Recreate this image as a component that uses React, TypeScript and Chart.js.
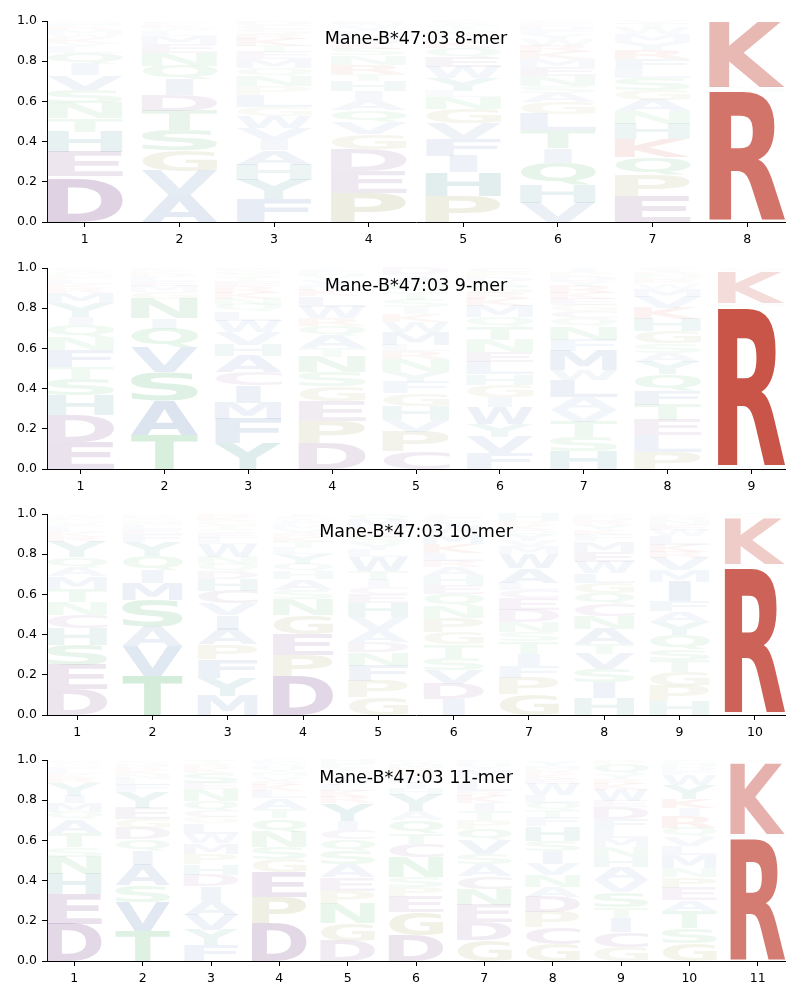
import React, { useEffect, useRef } from "react";
import { Chart, registerables } from "chart.js";

Chart.register(...registerables);

type Col = [string, number][];

const TITLES = [
  "Mane-B*47:03 8-mer",
  "Mane-B*47:03 9-mer",
  "Mane-B*47:03 10-mer",
  "Mane-B*47:03 11-mer",
];

const Y_TICKS = [0, 0.2, 0.4, 0.6, 0.8, 1.0];

// Letter stacks per position, listed bottom to top: [letter, probability]
const mer8: Col[] = [
  [["D",.215],["C",.014],["E",.121],["H",.10],["T",.065],["N",.075],["S",.068],["V",.072],["I",.055],["Q",.055],["L",.03],["Y",.02],["K",.025],["W",.02],["M",.02],["R",.015],["F",.015],["G",.01],["A",.005]],
  [["A",.134],["V",.12],["G",.102],["S",.10],["T",.097],["D",.08],["I",.075],["Q",.068],["N",.065],["E",.045],["M",.04],["L",.025],["W",.015],["K",.015],["F",.01],["R",.009]],
  [["F",.113],["Y",.096],["H",.075],["A",.074],["I",.052],["V",.06],["W",.058],["G",.045],["L",.058],["P",.045],["N",.05],["Q",.04],["M",.045],["E",.035],["T",.03],["K",.035],["R",.025],["S",.025],["C",.02],["D",.019]],
  [["P",.146],["E",.11],["D",.107],["G",.075],["V",.06],["Q",.058],["A",.052],["I",.045],["H",.05],["T",.035],["R",.045],["N",.045],["S",.035],["K",.03],["M",.03],["L",.025],["Y",.02],["W",.017],["F",.015]],
  [["P",.129],["H",.118],["I",.083],["F",.085],["V",.075],["G",.073],["N",.058],["L",.033],["Y",.063],["W",.055],["E",.048],["Q",.045],["K",.03],["M",.025],["R",.02],["S",.02],["T",.015],["A",.015],["C",.01]],
  [["V",.096],["H",.088],["Q",.11],["I",.072],["T",.09],["L",.082],["G",.06],["A",.045],["S",.035],["N",.05],["E",.045],["M",.04],["K",.035],["R",.03],["W",.03],["Y",.025],["F",.02],["D",.02],["P",.015],["C",.012]],
  [["E",.129],["P",.105],["Q",.09],["K",.088],["H",.075],["N",.063],["A",.058],["G",.05],["S",.06],["L",.045],["F",.05],["R",.045],["Y",.04],["M",.035],["W",.03],["T",.025],["V",.012]],
  [["N",.015],["R",.633],["H",.012],["M",.013],["K",.324],["Q",.003]],
];

const mer9: Col[] = [
  [["E",.136],["D",.133],["H",.096],["S",.083],["T",.06],["F",.083],["N",.063],["Q",.062],["I",.04],["Y",.071],["M",.05],["R",.025],["K",.02],["L",.02],["P",.015],["G",.015],["A",.015],["C",.013]],
  [["T",.169],["A",.172],["S",.14],["V",.123],["Q",.095],["I",.05],["N",.097],["G",.035],["M",.03],["E",.025],["L",.02],["D",.015],["K",.012],["R",.01],["F",.007]],
  [["Y",.128],["F",.12],["M",.082],["I",.085],["C",.065],["A",.082],["H",.057],["V",.064],["W",.055],["L",.045],["Q",.035],["N",.03],["K",.03],["R",.03],["E",.025],["T",.02],["S",.017],["G",.015],["P",.015]],
  [["D",.128],["P",.113],["E",.095],["G",.074],["S",.072],["N",.077],["T",.042],["A",.063],["Q",.048],["R",.04],["W",.055],["L",.053],["K",.03],["M",.025],["V",.025],["Y",.02],["H",.015],["F",.015],["I",.01]],
  [["C",.09],["P",.096],["V",.058],["H",.07],["G",.063],["F",.055],["Y",.053],["N",.063],["R",.04],["L",.03],["M",.065],["W",.05],["K",.04],["I",.03],["S",.04],["T",.04],["Q",.035],["A",.04],["E",.012],["D",.03]],
  [["F",.078],["V",.083],["Y",.062],["W",.086],["I",.05],["G",.058],["H",.054],["L",.062],["E",.05],["N",.061],["T",.067],["Q",.045],["M",.055],["K",.035],["R",.03],["S",.03],["A",.025],["D",.025],["P",.025],["C",.019]],
  [["H",.09],["S",.071],["T",.075],["V",.058],["A",.063],["L",.085],["W",.05],["M",.096],["F",.055],["N",.067],["Q",.04],["C",.035],["G",.03],["E",.03],["K",.03],["R",.035],["Y",.025],["D",.025],["P",.02],["I",.02]],
  [["P",.086],["L",.083],["E",.075],["T",.075],["F",.073],["Q",.08],["Y",.062],["A",.045],["S",.045],["G",.062],["H",.062],["K",.055],["V",.055],["M",.04],["W",.025],["R",.02],["N",.02],["D",.015],["I",.012],["C",.01]],
  [["H",.02],["R",.78],["L",.013],["M",.013],["K",.157],["Q",.017]],
];

const mer10: Col[] = [
  [["D",.128],["E",.121],["S",.1],["H",.083],["C",.067],["N",.063],["T",.067],["M",.06],["A",.045],["Q",.05],["Y",.075],["R",.025],["K",.025],["L",.02],["F",.015],["V",.015],["G",.012],["P",.01],["W",.01],["I",.009]],
  [["T",.194],["V",.15],["A",.095],["S",.132],["M",.085],["I",.065],["Q",.071],["Y",.07],["F",.04],["E",.025],["L",.02],["N",.015],["G",.013],["K",.01],["R",.008],["D",.007]],
  [["M",.095],["Y",.091],["F",.091],["P",.073],["A",.075],["I",.071],["V",.058],["C",.064],["H",.06],["D",.04],["Q",.035],["N",.035],["W",.062],["L",.03],["E",.025],["S",.02],["T",.02],["G",.02],["K",.02],["R",.015]],
  [["D",.194],["P",.106],["E",.104],["G",.095],["N",.078],["S",.045],["A",.053],["H",.04],["Q",.035],["Y",.05],["L",.03],["T",.03],["K",.025],["R",.02],["V",.02],["M",.02],["F",.015],["W",.015],["C",.01],["I",.015]],
  [["G",.086],["P",.083],["F",.075],["N",.067],["D",.053],["A",.061],["V",.063],["H",.07],["E",.045],["C",.035],["I",.035],["T",.045],["W",.07],["L",.035],["Y",.03],["S",.03],["K",.025],["R",.02],["M",.042],["Q",.03]],
  [["I",.078],["D",.075],["V",.072],["S",.061],["T",.066],["G",.062],["P",.07],["N",.058],["Q",.061],["E",.045],["H",.045],["A",.045],["R",.03],["L",.04],["K",.045],["M",.05],["W",.037],["Y",.025],["F",.02],["C",.015]],
  [["G",.103],["P",.083],["F",.06],["I",.059],["T",.061],["S",.045],["N",.05],["D",.061],["E",.058],["C",.042],["L",.036],["A",.071],["W",.07],["M",.035],["V",.03],["Y",.03],["Q",.025],["K",.025],["R",.02],["H",.036]],
  [["H",.083],["I",.078],["S",.067],["V",.074],["T",.05],["A",.075],["N",.066],["C",.058],["Q",.055],["G",.053],["L",.047],["W",.055],["E",.05],["M",.054],["F",.03],["K",.025],["Y",.025],["R",.02],["D",.02],["P",.015]],
  [["H",.07],["P",.075],["G",.07],["T",.056],["S",.056],["Q",.072],["Y",.064],["A",.055],["F",.048],["I",.096],["M",.057],["V",.062],["R",.03],["K",.035],["L",.045],["W",.03],["E",.025],["N",.025],["D",.015],["C",.014]],
  [["H",.017],["R",.714],["M",.01],["L",.01],["K",.229],["Q",.02]],
];

const mer11: Col[] = [
  [["D",.186],["E",.146],["H",.1],["N",.087],["S",.046],["T",.072],["A",.066],["Q",.039],["M",.044],["I",.037],["Y",.063],["R",.025],["K",.02],["L",.02],["F",.015],["G",.012],["W",.01],["P",.008],["V",.004]],
  [["T",.15],["V",.144],["S",.083],["A",.103],["I",.07],["Q",.055],["D",.056],["G",.047],["E",.055],["Y",.078],["F",.035],["L",.03],["N",.025],["K",.02],["R",.015],["M",.015],["W",.01],["P",.009]],
  [["F",.078],["Y",.075],["V",.077],["A",.07],["I",.071],["D",.058],["H",.054],["P",.05],["M",.053],["W",.046],["L",.054],["G",.03],["C",.03],["Q",.05],["N",.06],["E",.03],["S",.05],["K",.025],["R",.02],["T",.019]],
  [["D",.186],["P",.13],["E",.125],["G",.066],["S",.061],["N",.075],["Q",.067],["T",.046],["A",.055],["L",.037],["K",.03],["R",.02],["V",.02],["M",.02],["Y",.015],["H",.015],["W",.012],["F",.01],["C",.01]],
  [["D",.1],["G",.089],["N",.094],["P",.066],["E",.067],["A",.066],["S",.067],["Q",.058],["C",.046],["I",.045],["Y",.086],["R",.03],["K",.03],["L",.03],["W",.025],["V",.025],["M",.02],["T",.02],["F",.019],["H",.017]],
  [["D",.128],["G",.116],["E",.075],["P",.05],["S",.05],["N",.096],["C",.067],["T",.055],["Q",.066],["A",.042],["Y",.083],["H",.03],["I",.03],["L",.025],["K",.025],["R",.02],["M",.02],["V",.015],["F",.007]],
  [["G",.103],["D",.091],["E",.087],["N",.076],["C",.063],["A",.061],["S",.05],["V",.07],["Q",.055],["P",.045],["T",.045],["I",.04],["K",.035],["R",.025],["L",.045],["W",.02],["M",.04],["Y",.02],["H",.015],["F",.014]],
  [["G",.086],["C",.08],["P",.078],["D",.075],["A",.05],["N",.058],["V",.056],["I",.066],["S",.05],["H",.071],["F",.042],["T",.04],["Q",.035],["L",.04],["W",.055],["E",.025],["K",.025],["R",.02],["M",.02],["Y",.028]],
  [["G",.07],["C",.075],["I",.069],["T",.054],["S",.073],["V",.06],["A",.065],["H",.05],["N",.05],["M",.046],["L",.046],["F",.05],["D",.058],["E",.03],["W",.055],["K",.03],["R",.025],["Y",.025],["Q",.049],["P",.02]],
  [["G",.09],["S",.075],["T",.083],["A",.055],["E",.061],["P",.053],["N",.046],["M",.063],["L",.046],["V",.046],["Q",.046],["R",.055],["I",.04],["K",.045],["Y",.07],["W",.05],["F",.02],["D",.02],["H",.02],["C",.016]],
  [["H",.012],["R",.598],["M",.01],["L",.011],["K",.352],["Q",.017]],
];

const PANEL_DATA: Col[][] = [mer8, mer9, mer10, mer11];

// ---- styling ----
const FONT = "'DejaVu Sans', 'Liberation Sans', sans-serif";
const GROUP_RGB: Record<string, [number, number, number]> = {
  acidic: [123, 74, 139],
  basic: [192, 57, 43],
  hydrophobic: [74, 116, 176],
  polar: [58, 170, 85],
  special: [150, 148, 70],
  aromatic: [40, 130, 130],
};
const LETTER_GROUP: Record<string, string> = {
  D: "acidic", E: "acidic", C: "acidic",
  K: "basic", R: "basic",
  A: "hydrophobic", V: "hydrophobic", L: "hydrophobic", I: "hydrophobic",
  M: "hydrophobic", F: "hydrophobic", W: "hydrophobic",
  S: "polar", T: "polar", N: "polar", Q: "polar",
  G: "special", P: "special",
  H: "aromatic", Y: "aromatic",
};
function letterColor(ch: string, h: number): string {
  const rgb = GROUP_RGB[LETTER_GROUP[ch] || "hydrophobic"];
  const a = Math.min(0.9, 0.005 + 1.1 * h);
  return `rgba(${rgb[0]},${rgb[1]},${rgb[2]},${a.toFixed(3)})`;
}

const HALF_W = 0.4;

function drawGlyph(
  ctx: CanvasRenderingContext2D,
  ch: string,
  x0: number,
  x1: number,
  yTop: number,
  yBot: number,
  color: string
) {
  const boxW = x1 - x0;
  const boxH = yBot - yTop;
  if (boxH <= 0.05) return;
  ctx.font = `bold 100px ${FONT}`;
  const m = ctx.measureText(ch);
  const mE = ctx.measureText("E");
  const gw = m.actualBoundingBoxLeft + m.actualBoundingBoxRight;
  const gh = m.actualBoundingBoxAscent + m.actualBoundingBoxDescent;
  const ew = mE.actualBoundingBoxLeft + mE.actualBoundingBoxRight;
  const sx = boxW / Math.max(gw, ew);
  const sy = boxH / gh;
  const drawnW = gw * sx;
  const left = x0 + (boxW - drawnW) / 2;
  ctx.save();
  ctx.translate(left, yTop);
  ctx.scale(sx, sy);
  ctx.fillStyle = color;
  ctx.textAlign = "left";
  ctx.textBaseline = "alphabetic";
  ctx.fillText(ch, m.actualBoundingBoxLeft, m.actualBoundingBoxAscent);
  ctx.restore();
}

const logoPlugin = {
  id: "logoLetters",
  afterDatasetsDraw(chart: any, _args: any, opts: any) {
    const cols: Col[] = opts.columns || [];
    const { ctx } = chart;
    const xs = chart.scales.x;
    const ys = chart.scales.y;
    ctx.save();
    cols.forEach((col, i) => {
      const pos = i + 1;
      const xl = xs.getPixelForValue(pos - HALF_W);
      const xr = xs.getPixelForValue(pos + HALF_W);
      let cum = 0;
      col.forEach(([ch, h]) => {
        const yb = ys.getPixelForValue(cum);
        const yt = ys.getPixelForValue(cum + h);
        cum += h;
        drawGlyph(ctx, ch, xl, xr, yt, yb, letterColor(ch, h));
      });
    });
    ctx.restore();
  },
};

const innerTitlePlugin = {
  id: "innerTitle",
  afterDraw(chart: any, _args: any, opts: any) {
    const { ctx, chartArea } = chart;
    ctx.save();
    ctx.font = `17.5px ${FONT}`;
    ctx.fillStyle = "#000";
    ctx.textAlign = "center";
    ctx.textBaseline = "alphabetic";
    ctx.fillText(opts.text || "", (chartArea.left + chartArea.right) / 2, chartArea.top + 23);
    ctx.restore();
  },
};

const PANEL_TOPS = [21, 268, 514, 760];
const AREA_H = 201;
const CANVAS_H = 246;

function LogoPanel({ index }: { index: number }) {
  const ref = useRef<HTMLCanvasElement | null>(null);
  useEffect(() => {
    if (!ref.current) return;
    const cols = PANEL_DATA[index];
    const n = cols.length;
    const positions = cols.map((_, i) => i + 1);
    const tickFont = { family: FONT, size: 12.5 };
    const chart = new Chart(ref.current, {
      type: "scatter",
      data: { datasets: [{ data: [] as any[] }] },
      plugins: [logoPlugin as any, innerTitlePlugin as any],
      options: {
        animation: false,
        responsive: false,
        devicePixelRatio: 1,
        layout: { padding: { top: 21, right: 15, left: 0, bottom: 0 } },
        plugins: {
          legend: { display: false },
          tooltip: { enabled: false },
          logoLetters: { columns: cols },
          innerTitle: { text: TITLES[index] },
        } as any,
        scales: {
          x: {
            type: "linear",
            min: 1 - HALF_W,
            max: n + HALF_W,
            afterBuildTicks: (s: any) => {
              s.ticks = positions.map((v) => ({ value: v }));
            },
            afterFit: (s: any) => {
              s.height = CANVAS_H - 21 - AREA_H;
            },
            ticks: {
              callback: (v: any) => String(v),
              font: tickFont,
              color: "#000",
              padding: 5,
              maxRotation: 0,
              autoSkip: false,
            },
            grid: {
              display: true,
              drawOnChartArea: false,
              drawTicks: true,
              tickLength: 5,
              color: "#000",
            },
            border: { display: true, color: "#000", width: 1 },
          },
          y: {
            type: "linear",
            min: 0,
            max: 1,
            afterBuildTicks: (s: any) => {
              s.ticks = Y_TICKS.map((v) => ({ value: v }));
            },
            afterFit: (s: any) => {
              s.width = 47;
            },
            ticks: {
              callback: (v: any) => Number(v).toFixed(1),
              font: tickFont,
              color: "#000",
              padding: 5,
            },
            grid: {
              display: true,
              drawOnChartArea: false,
              drawTicks: true,
              tickLength: 5,
              color: "#000",
            },
            border: { display: true, color: "#000", width: 1 },
          },
        },
      } as any,
    });
    return () => chart.destroy();
  }, [index]);
  return (
    <canvas
      ref={ref}
      width={800}
      height={CANVAS_H}
      style={{
        position: "absolute",
        left: 0,
        top: PANEL_TOPS[index] - 21,
        width: 800,
        height: CANVAS_H,
      }}
    />
  );
}

export default function App() {
  return (
    <div
      style={{
        position: "absolute",
        left: 0,
        top: 0,
        width: 800,
        height: 1000,
        background: "#fff",
      }}
    >
      {PANEL_DATA.map((_, i) => (
        <LogoPanel key={i} index={i} />
      ))}
    </div>
  );
}
